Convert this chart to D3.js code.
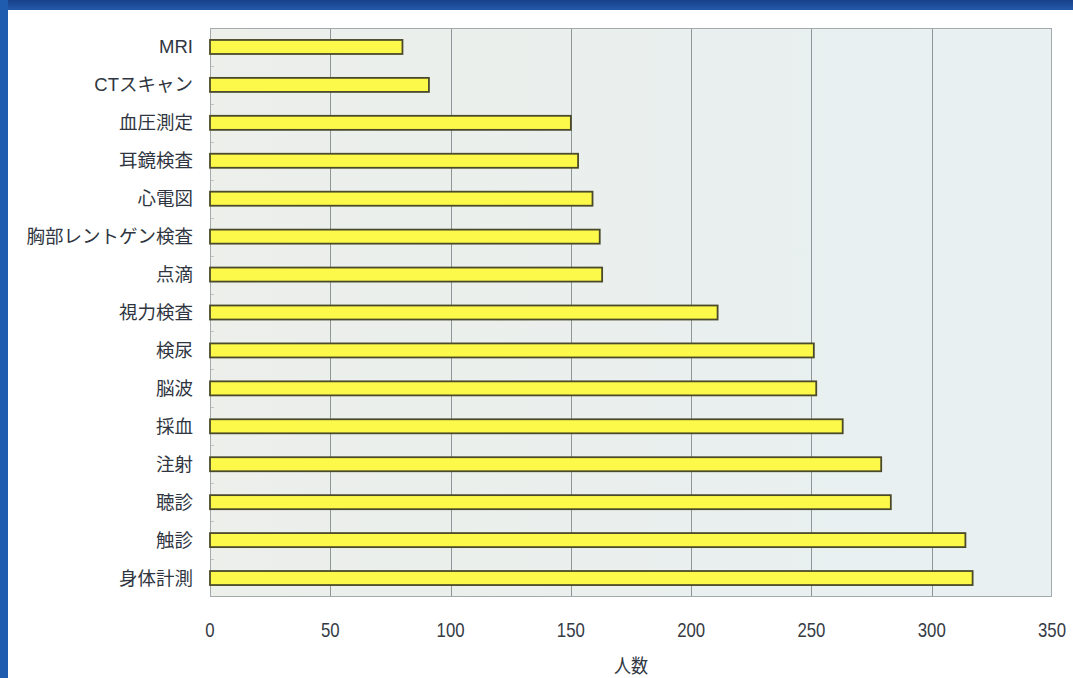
<!DOCTYPE html>
<html lang="ja">
<head>
<meta charset="utf-8">
<script src="https://cdn.jsdelivr.net/npm/d3@7/dist/d3.min.js"></script>
<style>
  html, body { margin: 0; padding: 0; background: #ffffff; }
  svg { display: block; }
  .cat { font-family: "Liberation Sans", "Noto Sans CJK JP", sans-serif; font-size: 18.5px; fill: #2f3641; }
  .tick-x { font-family: "Liberation Sans", sans-serif; font-size: 20px; fill: #353b44; }
  .axis-title { font-family: "Noto Sans CJK JP", sans-serif; font-size: 19px; fill: #2f3641; }
</style>
</head>
<body>
<script>
// Examination types (top to bottom) and number of people for each
const categories = ["MRI", "CTスキャン", "血圧測定", "耳鏡検査", "心電図", "胸部レントゲン検査", "点滴",
  "視力検査", "検尿", "脳波", "採血", "注射", "聴診", "触診", "身体計測"];
const counts = [80, 91, 150, 153, 159, 162, 163, 211, 251, 252, 263, 279, 283, 314, 317];
const xTicks = [0, 50, 100, 150, 200, 250, 300, 350];
const xTitle = "人数";

const W = 1073, H = 678;
const plot = { left: 210, right: 1052, top: 28, bottom: 597 };

const svg = d3.select("body").append("svg").attr("width", W).attr("height", H);

const defs = svg.append("defs");
const grad = defs.append("linearGradient").attr("id", "plotBg").attr("x1", 0).attr("x2", 1).attr("y1", 0).attr("y2", 0);
grad.append("stop").attr("offset", "0%").attr("stop-color", "#ecefea");
grad.append("stop").attr("offset", "100%").attr("stop-color", "#e8f0f2");
const topGrad = defs.append("linearGradient").attr("id", "frameTop").attr("x1", 0).attr("x2", 0).attr("y1", 0).attr("y2", 1);
topGrad.append("stop").attr("offset", "0%").attr("stop-color", "#17418a");
topGrad.append("stop").attr("offset", "100%").attr("stop-color", "#2459a8");

// Blue slide frame on top and left
svg.append("rect").attr("x", 0).attr("y", 0).attr("width", W).attr("height", 10).attr("fill", "url(#frameTop)");
svg.append("rect").attr("x", 0).attr("y", 0).attr("width", 8).attr("height", H).attr("fill", "#1f5cb0");

const x = d3.scaleLinear().domain([0, 350]).range([plot.left, plot.right]);
const y = d3.scaleBand().domain(categories).range([plot.top, plot.bottom])
  .paddingInner(0.63).paddingOuter(0.315);

// Plot area
svg.append("rect")
  .attr("x", plot.left).attr("y", plot.top)
  .attr("width", plot.right - plot.left).attr("height", plot.bottom - plot.top)
  .attr("fill", "url(#plotBg)");

// Vertical gridlines
svg.append("g").selectAll("line")
  .data(xTicks.filter(d => d > 0 && d < 350))
  .join("line")
  .attr("x1", d => Math.round(x(d)) + 0.5).attr("x2", d => Math.round(x(d)) + 0.5)
  .attr("y1", plot.top).attr("y2", plot.bottom)
  .attr("stroke", "#8e9697").attr("stroke-width", 1);

// Category tick marks between rows
const step = y.step();
svg.append("g").selectAll("line")
  .data(d3.range(1, categories.length))
  .join("line")
  .attr("x1", plot.left).attr("x2", plot.left + 4)
  .attr("y1", i => Math.round(plot.top + i * step) + 0.5)
  .attr("y2", i => Math.round(plot.top + i * step) + 0.5)
  .attr("stroke", "#c0c4c4").attr("stroke-width", 1);

// Plot border
svg.append("rect")
  .attr("x", plot.left + 0.5).attr("y", plot.top + 0.5)
  .attr("width", plot.right - plot.left - 1).attr("height", plot.bottom - plot.top - 1)
  .attr("fill", "none").attr("stroke", "#a3aaab").attr("stroke-width", 1);

// Bars
svg.append("g").selectAll("rect")
  .data(categories.map((c, i) => ({ c, v: counts[i] })))
  .join("rect")
  .attr("x", x(0))
  .attr("y", d => y(d.c))
  .attr("width", d => x(d.v) - x(0))
  .attr("height", y.bandwidth())
  .attr("fill", "#fdf94a")
  .attr("stroke", "#4a4a2a")
  .attr("stroke-width", 1.8);

// Category labels
svg.append("g").selectAll("text")
  .data(categories)
  .join("text")
  .attr("class", "cat")
  .attr("x", 193)
  .attr("y", d => y(d) + y.bandwidth() / 2)
  .attr("text-anchor", "end")
  .attr("dominant-baseline", "central")
  .text(d => d);

// Value axis labels, horizontally condensed
svg.append("g").selectAll("text")
  .data(xTicks)
  .join("text")
  .attr("class", "tick-x")
  .attr("transform", d => `translate(${x(d)},630) scale(0.84,1)`)
  .attr("text-anchor", "middle")
  .attr("dominant-baseline", "central")
  .text(d => d);

// Axis title
svg.append("text")
  .attr("class", "axis-title")
  .attr("transform", "translate(631,665) scale(0.9,1)")
  .attr("text-anchor", "middle")
  .attr("dominant-baseline", "central")
  .text(xTitle);
</script>
</body>
</html>
